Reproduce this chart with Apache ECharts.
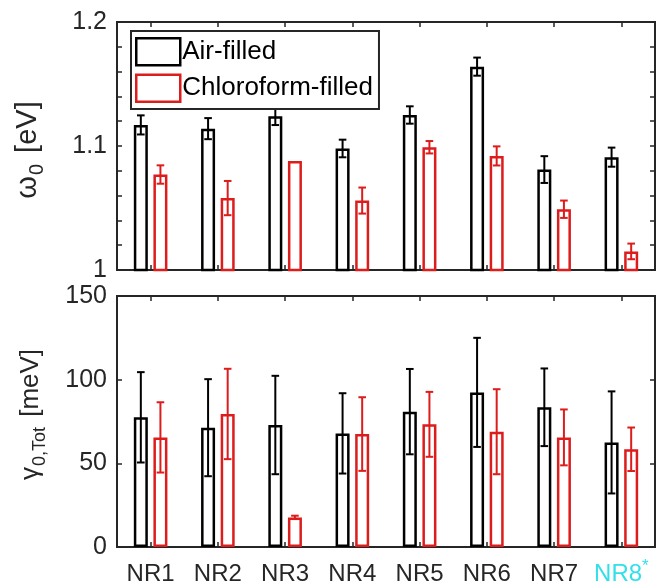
<!DOCTYPE html>
<html>
<head>
<meta charset="utf-8">
<script src="https://cdn.jsdelivr.net/npm/echarts@6/dist/echarts.min.js"></script>
<style>html,body{margin:0;padding:0;background:#fff;}#c{width:658px;height:587px;}</style>
</head>
<body>
<div id="c"></div>
<script>
const categories = ['NR1', 'NR2', 'NR3', 'NR4', 'NR5', 'NR6', 'NR7', 'NR8'];
const omegaAir = [1.117, 1.114, 1.124, 1.098, 1.125, 1.164, 1.081, 1.091];
const omegaAirErr = [0.0077, 0.0085, 0.0071, 0.0071, 0.0070, 0.0073, 0.0108, 0.0077];
const omegaChl = [1.077, 1.058, 1.088, 1.056, 1.099, 1.092, 1.049, 1.015];
const omegaChlErr = [0.0074, 0.0138, 0, 0.0105, 0.0050, 0.0077, 0.0070, 0.0063];
const gammaAir = [77.5, 71.3, 72.9, 67.9, 80.9, 92.4, 83.5, 62.5];
const gammaAirErr = [27, 29, 29.4, 24, 25.5, 32.6, 23.2, 30.5];
const gammaChl = [65.5, 79.5, 17.7, 67.5, 73.3, 68.9, 65.5, 58.4];
const gammaChlErr = [21, 27, 1, 22, 19.4, 25.4, 16.7, 13];
const omegaTicks = [1, 1.1, 1.2];
const gammaTicks = [0, 50, 100, 150];

const FONT = '"Liberation Sans", Arial, Helvetica, sans-serif';
const AX = '#262626';
const BLACK = '#000000';
const RED = '#dd1c1c';
const CYAN = '#33e0ea';
const BAR_W = 14;
const BAR_GAP = 0.4;
const OFF = (BAR_W + BAR_W * BAR_GAP) / 2;

const chart = echarts.init(document.getElementById('c'), null, {renderer: 'canvas'});

function errSeries(name, xi, yi, vals, errs, sign, color) {
  return {
    type: 'custom', name: name + '_err', xAxisIndex: xi, yAxisIndex: yi, z: 5,
    silent: true,
    data: categories.map((c, i) => [i, vals[i], errs[i]]),
    encode: {x: 0, y: 1},
    renderItem: function (params, api) {
      const i = api.value(0), v = api.value(1), e = api.value(2);
      if (!e) return null;
      const hi = api.coord([i, v + e]);
      const lo = api.coord([i, v - e]);
      const x = hi[0] + sign * OFF;
      const cap = 3.8;
      const st = {stroke: color, lineWidth: 2};
      return {
        type: 'group',
        children: [
          {type: 'line', shape: {x1: x, y1: hi[1], x2: x, y2: lo[1]}, style: st},
          {type: 'line', shape: {x1: x - cap, y1: hi[1], x2: x + cap, y2: hi[1]}, style: st},
          {type: 'line', shape: {x1: x - cap, y1: lo[1], x2: x + cap, y2: lo[1]}, style: st}
        ]
      };
    }
  };
}

function barSeries(name, xi, yi, vals, color) {
  return {
    type: 'bar', name: name, xAxisIndex: xi, yAxisIndex: yi,
    data: vals, barWidth: BAR_W, barGap: (BAR_GAP * 100) + '%',
    itemStyle: {color: '#ffffff', borderColor: color, borderWidth: 2.5},
    emphasis: {disabled: true}, z: 2
  };
}

function catAxis(gi, pos, showLabel) {
  return {
    type: 'category', gridIndex: gi, position: pos, data: categories,
    axisLine: {show: true, onZero: false, lineStyle: {color: AX, width: 2}},
    axisTick: {show: true, inside: true, alignWithLabel: true, interval: 0, length: 5, lineStyle: {color: AX, width: 1.5}},
    axisLabel: showLabel ? {
      show: true, interval: 0, hideOverlap: false, margin: 11, fontSize: 24, fontFamily: FONT, color: AX,
      formatter: function (v) { return v === 'NR8' ? '{c|NR8}{s|*}' : '{n|' + v + '}'; },
      rich: {
        n: {color: AX, fontSize: 24, fontFamily: FONT, verticalAlign: 'bottom', lineHeight: 28},
        c: {color: CYAN, fontSize: 24, fontFamily: FONT, verticalAlign: 'bottom', lineHeight: 28},
        s: {color: CYAN, fontSize: 17, fontFamily: FONT, verticalAlign: 'top', lineHeight: 28}
      }
    } : {show: false},
    splitLine: {show: false}
  };
}

function valAxis(gi, pos, min, max, interval, showLabel, ticks, minor, name) {
  const ax = {
    type: 'value', gridIndex: gi, position: pos, min: min, max: max, interval: interval,
    axisLine: {show: true, lineStyle: {color: AX, width: 2}},
    axisTick: {show: true, inside: true, length: 5, lineStyle: {color: AX, width: 1.5}},
    minorTick: minor ? {show: true, splitNumber: 5, length: 5, lineStyle: {color: AX, width: 1.5}} : {show: false},
    splitLine: {show: false},
    axisLabel: showLabel ? {
      show: true, margin: 10, fontSize: 25, fontFamily: FONT, color: AX,
      formatter: function (v) {
        for (const t of ticks) if (Math.abs(t - v) < 1e-9) return String(t);
        return '';
      }
    } : {show: false}
  };
  if (name) {
    const fs = name.fs;
    ax.name = name.text;
    ax.nameLocation = 'middle';
    ax.nameRotate = 90;
    ax.nameGap = name.gap;
    ax.nameTextStyle = {
      color: AX, fontSize: fs, fontFamily: FONT, padding: name.pad,
      rich: {
        w: {fontSize: fs, fontFamily: FONT, color: AX, verticalAlign: 'middle', lineHeight: fs + 10},
        n: {fontSize: fs, fontFamily: FONT, color: AX, verticalAlign: 'middle', lineHeight: fs + 10},
        s: {fontSize: name.sub, fontFamily: FONT, color: AX, verticalAlign: 'bottom', lineHeight: fs + 10, padding: [0, 3, 0, 1]}
      }
    };
  }
  return ax;
}

const option = {
  backgroundColor: '#ffffff',
  animation: false,
  grid: [
    {left: 117, right: 3, top: 22, height: 248, show: true, borderColor: AX, borderWidth: 2, backgroundColor: 'transparent'},
    {left: 117, right: 3, top: 296, height: 251, show: true, borderColor: AX, borderWidth: 2, backgroundColor: 'transparent'}
  ],
  legend: {
    orient: 'vertical', left: 131, top: 31,
    padding: [6, 6, 6, 4], itemGap: 7, itemWidth: 44, itemHeight: 27,
    borderColor: AX, borderWidth: 2, backgroundColor: '#ffffff',
    textStyle: {fontSize: 26, fontFamily: FONT, color: '#000', padding: [0, 0, 0, -3]},
    selectedMode: false, z: 10,
    data: [
      {name: 'Air-filled', icon: 'rect', itemStyle: {color: '#ffffff', borderColor: BLACK, borderWidth: 2.5}},
      {name: 'Chloroform-filled', icon: 'rect', itemStyle: {color: '#ffffff', borderColor: RED, borderWidth: 2.5}}
    ]
  },
  xAxis: [
    catAxis(0, 'bottom', false),
    catAxis(0, 'top', false),
    catAxis(1, 'bottom', true),
    catAxis(1, 'top', false)
  ],
  yAxis: [
    valAxis(0, 'left', 1, 1.2, 0.1, true, omegaTicks, true, {text: '{w|ω}{s|0} {n|[eV]}', gap: 70, fs: 29, sub: 20, pad: [0, 8, 0, 0]}),
    valAxis(0, 'right', 1, 1.2, 0.1, false, omegaTicks, true, null),
    valAxis(1, 'left', 0, 150, 50, true, gammaTicks, false, {text: '{w|γ}{s|0,Tot} {n|[meV]}', gap: 68, fs: 26, sub: 18, pad: [0, 0, 0, 14]}),
    valAxis(1, 'right', 0, 150, 50, false, gammaTicks, false, null)
  ],
  series: [
    barSeries('Air-filled', 0, 0, omegaAir, BLACK),
    barSeries('Chloroform-filled', 0, 0, omegaChl, RED),
    errSeries('Air-filled', 0, 0, omegaAir, omegaAirErr, -1, BLACK),
    errSeries('Chloroform-filled', 0, 0, omegaChl, omegaChlErr, 1, RED),
    barSeries('Air-filled', 2, 2, gammaAir, BLACK),
    barSeries('Chloroform-filled', 2, 2, gammaChl, RED),
    errSeries('Air-filled', 2, 2, gammaAir, gammaAirErr, -1, BLACK),
    errSeries('Chloroform-filled', 2, 2, gammaChl, gammaChlErr, 1, RED)
  ]
};
chart.setOption(option);
</script>
</body>
</html>
